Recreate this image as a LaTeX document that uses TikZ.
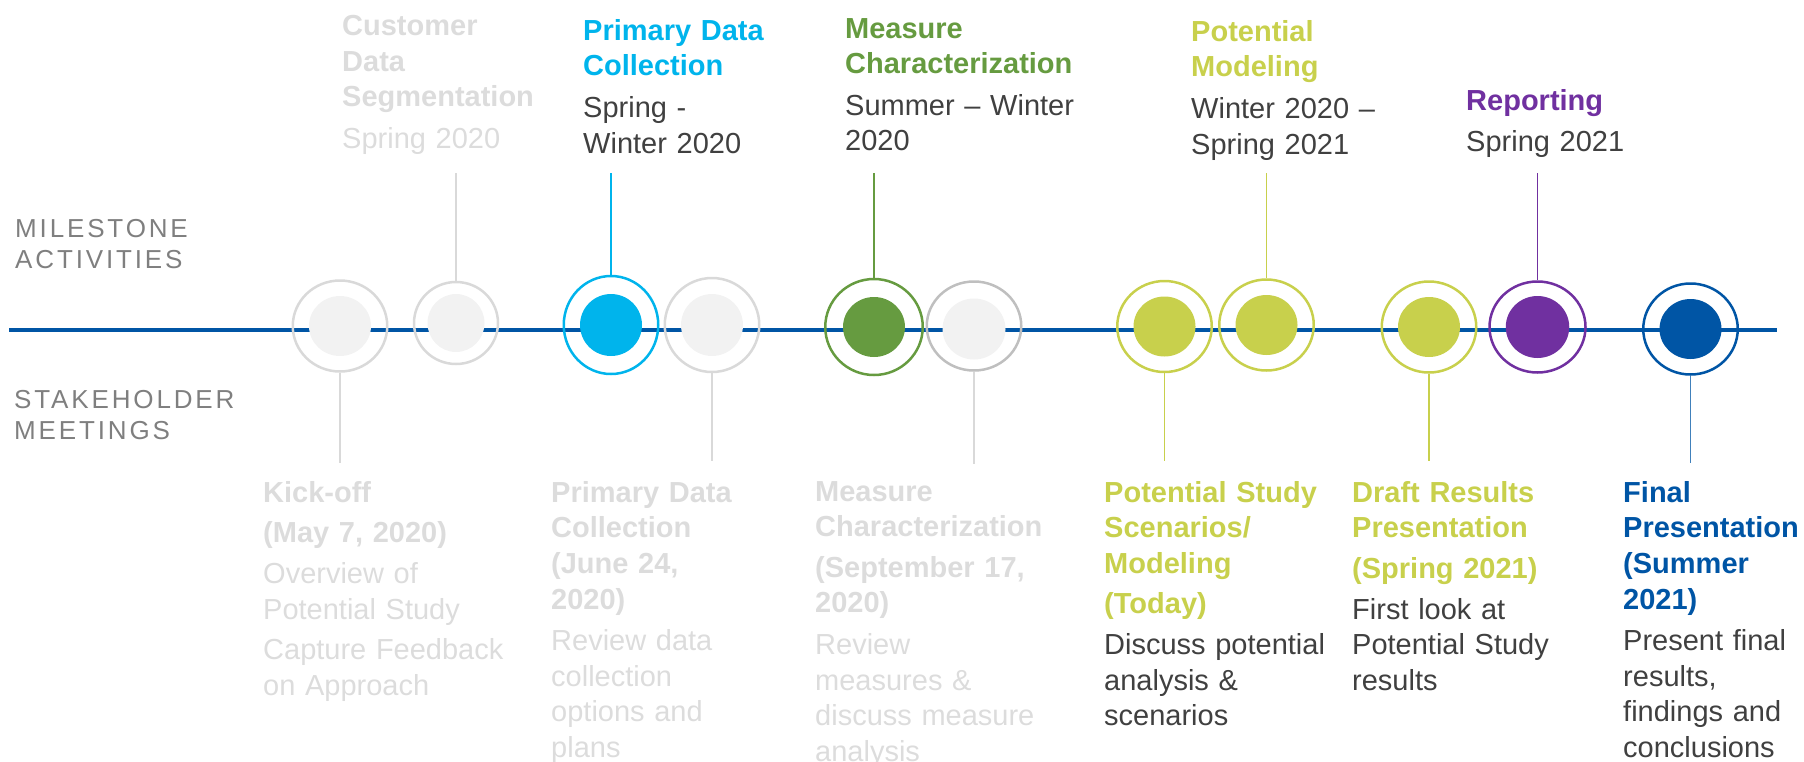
\documentclass[tikz,border=0pt]{standalone}
\usepackage{fontspec}
\setmainfont{Liberation Sans}
\newfontfamily\spacedfont[LetterSpace=11]{Liberation Sans}
\usetikzlibrary{shapes.geometric}
\definecolor{tlblue}{HTML}{0055A5}
\definecolor{tlcyan}{HTML}{00B4EC}
\definecolor{tlgreen}{HTML}{669B40}
\definecolor{tllime}{HTML}{C8D04C}
\definecolor{tlpurple}{HTML}{7030A0}
\definecolor{tlring}{HTML}{D9D9D9}
\definecolor{tlringdark}{HTML}{BFBFBF}
\definecolor{tlpale}{HTML}{F2F2F2}
\definecolor{tltext}{HTML}{404040}
\definecolor{tlfade}{HTML}{DCDCDC}
\definecolor{tllabel}{HTML}{7F7F7F}
\tikzset{
  ring/.style={ellipse, draw=#1, line width=2.5pt, minimum width=94.5pt, minimum height=91pt, inner sep=0pt},
  core/.style={ellipse, fill=#1, minimum width=62pt, minimum height=60pt, inner sep=0pt},
  stem/.style={draw=#1, line width=1.5pt},
  caption/.style={anchor=north west, align=left, text width=330pt, inner sep=0pt, font=\fontsize{29}{35.6}\selectfont},
  rowlabel/.style={anchor=north west, align=left, inner sep=0pt, text=tllabel, font=\spacedfont\fontsize{26}{31.5}\selectfont},
}
\begin{document}
\begin{tikzpicture}[x=1pt,y=-1pt]
\useasboundingbox (0,0) rectangle (1804,761);
% row labels
\node[rowlabel] (lbltop) at (15,219) {MILESTONE\\ACTIVITIES};
\node[rowlabel] (lblbot) at (14,390) {STAKEHOLDER\\MEETINGS};
% time line
\coordinate (tlstart) at (9,329.5);
\coordinate (tlend) at (1777,329.5);
\draw[tlblue, line width=4pt] (tlstart) -- (tlend);
% rings and cores
\node[ring=tlring] (r1) at (340,326) {};
\node[core=tlpale] (c1) at (r1) {};
\node[ring=tlring, minimum width=84pt, minimum height=82pt] (r2) at (456,323) {};
\node[core=tlpale, minimum width=57pt, minimum height=58pt] (c2) at (r2) {};
\node[ring=tlcyan, minimum height=98pt] (r3) at (611,325) {};
\node[core=tlcyan, minimum height=62pt] (c3) at (r3) {};
\node[ring=tlring, minimum height=94pt] (r4) at (712,325) {};
\node[core=tlpale, minimum height=62pt] (c4) at (r4) {};
\node[ring=tlgreen, minimum width=97.5pt, minimum height=96pt] (r5) at (874,327) {};
\node[core=tlgreen] (c5) at (r5) {};
\node[ring=tlringdark, minimum height=89pt] (r6) at (974,326) {};
\node[core=tlpale, minimum width=63pt, minimum height=61pt] (c6) at (974,329) {};
\node[ring=tllime] (r7) at (1164.5,326.5) {};
\node[core=tllime] (c7) at (r7) {};
\node[ring=tllime] (r8) at (1266.5,325) {};
\node[core=tllime] (c8) at (r8) {};
\node[ring=tllime] (r9) at (1429,327) {};
\node[core=tllime] (c9) at (r9) {};
\node[ring=tlpurple, minimum width=96pt] (r10) at (1537.5,327) {};
\node[core=tlpurple, minimum width=63.5pt, minimum height=62pt] (c10) at (r10) {};
\node[ring=tlblue] (r11) at (1690.5,329) {};
\node[core=tlblue] (c11) at (r11) {};
% stems up to the activities
\coordinate (s2) at (456,173);
\coordinate (s3) at (611,173);
\coordinate (s5) at (874,173);
\coordinate (s8) at (1266.5,173);
\coordinate (s10) at (1537.5,173);
\draw[stem=tlring] (s2) -- (r2.north);
\draw[stem=tlcyan] (s3) -- (r3.north);
\draw[stem=tlgreen] (s5) -- (r5.north);
\draw[stem=tllime] (s8) -- (r8.north);
\draw[stem=tlpurple] (s10) -- (r10.north);
% stems down to the meetings
\coordinate (s1) at (340,463);
\coordinate (s4) at (712,461);
\coordinate (s6) at (974,464);
\coordinate (s7) at (1164.5,461);
\coordinate (s9) at (1429,461);
\coordinate (s11) at (1690.5,463);
\draw[stem=tlring] (r1.south) -- (s1);
\draw[stem=tlring] (r4.south) -- (s4);
\draw[stem=tlring] (r6.south) -- (s6);
\draw[stem=tllime] (r7.south) -- (s7);
\draw[stem=tllime] (r9.south) -- (s9);
\draw[stem=tlblue!75] (r11.south) -- (s11);
% activities
\node[caption, text=tlfade] (a2) at (342,15) {\bfseries Customer\\ Data\\ Segmentation\\[6pt]\mdseries Spring 2020};
\node[caption, text=tlcyan] (a3) at (583,19) {\bfseries Primary Data\\ Collection\\[6pt]\mdseries\color{tltext}Spring -\\ Winter 2020};
\node[caption, text=tlgreen] (a5) at (845,18) {\bfseries Measure\\ Characterization\\[6pt]\mdseries\color{tltext}Summer -- Winter\\ 2020};
\node[caption, text=tllime] (a8) at (1191,20) {\bfseries Potential\\ Modeling\\[6pt]\mdseries\color{tltext}Winter 2020 --\\ Spring 2021};
\node[caption, text=tlpurple] (a10) at (1466,89) {\bfseries Reporting\\[6pt]\mdseries\color{tltext}Spring 2021};
% meetings
\node[caption, text=tlfade] (m1) at (263,481) {\bfseries Kick-off\\[5pt] (May 7, 2020)\\[5pt]\mdseries Overview of\\ Potential Study\\[5pt] Capture Feedback\\ on Approach};
\node[caption, text=tlfade] (m4) at (551,481) {\bfseries Primary Data\\ Collection\\ (June 24,\\ 2020)\\[6pt]\mdseries Review data\\ collection\\ options and\\ plans};
\node[caption, text=tlfade] (m6) at (815,481) {\bfseries Measure\\ Characterization\\[5pt] (September 17,\\ 2020)\\[6pt]\mdseries Review\\ measures \&\\ discuss measure\\ analysis};
\node[caption, text=tllime] (m7) at (1104,481) {\bfseries Potential Study\\ Scenarios/\\ Modeling\\[4pt] (Today)\\[6pt]\mdseries\color{tltext}Discuss potential\\ analysis \&\\ scenarios};
\node[caption, text=tllime] (m9) at (1352,481) {\bfseries Draft Results\\ Presentation\\[5pt] (Spring 2021)\\[5pt]\mdseries\color{tltext}First look at\\ Potential Study\\ results};
\node[caption, text=tlblue] (m11) at (1623,481) {\bfseries Final\\ Presentation\\ (Summer\\ 2021)\\[6pt]\mdseries\color{tltext}Present final\\ results,\\ findings and\\ conclusions};
\end{tikzpicture}
\end{document}
